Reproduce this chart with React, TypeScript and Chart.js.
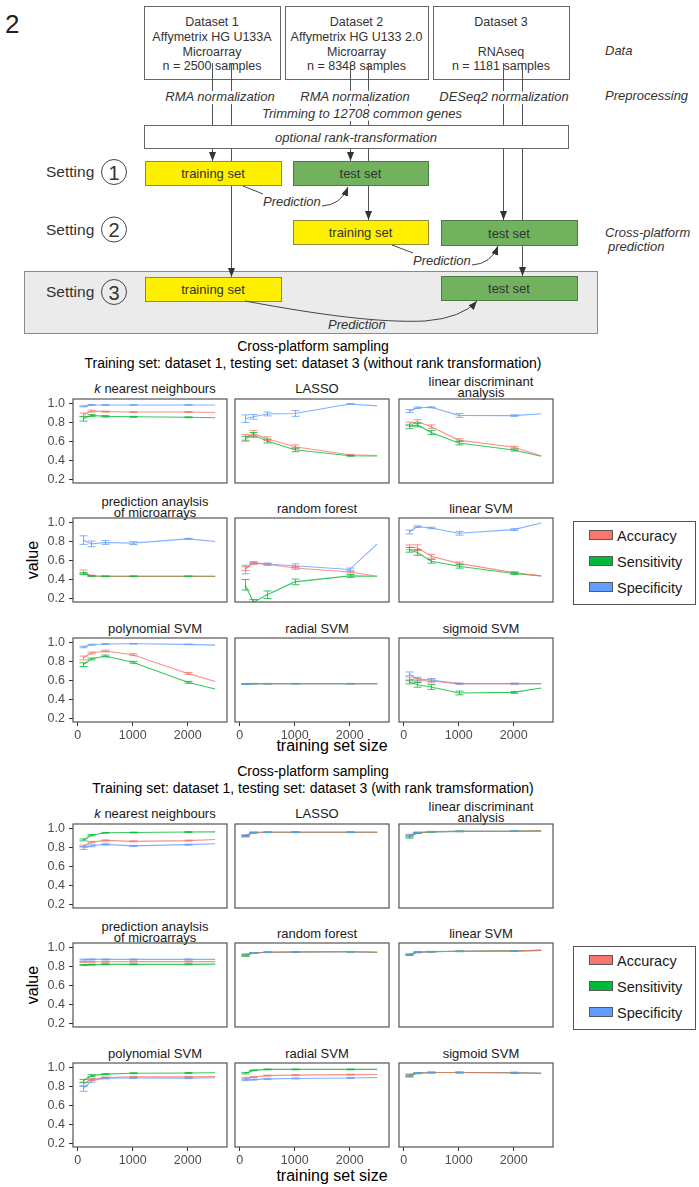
import React, { useEffect, useRef } from 'react';
import { Chart, registerables } from 'chart.js';

Chart.register(...registerables);

const FONT = "'Liberation Sans', Arial, Helvetica, sans-serif";

// ---- data -------------------------------------------------------------
const TRAINING_SIZES = [100, 250, 500, 1000, 2000, 2500];
const X_TICKS = [0, 1000, 2000];
const Y_TICKS = [0.2, 0.4, 0.6, 0.8, 1.0];

const METHODS = [
  ['k nearest neighbours'],
  ['LASSO'],
  ['linear discriminant', 'analysis'],
  ['prediction anaylsis', 'of microarrays'],
  ['random forest'],
  ['linear SVM'],
  ['polynomial SVM'],
  ['radial SVM'],
  ['sigmoid SVM'],
];

const METRICS = ['Accuracy', 'Sensitivity', 'Specificity'];
const METRIC_FILL = ['#F8766D', '#00BA38', '#619CFF'];
const METRIC_LINE = ['rgba(248,118,109,0.8)', 'rgba(0,186,56,0.8)', 'rgba(97,156,255,0.8)'];

const FIGURE_TITLE = 'Cross-platform sampling';
const SUBTITLE_RAW = 'Training set: dataset 1, testing set: dataset 3 (without rank transformation)';
const SUBTITLE_RANK = 'Training set: dataset 1, testing set: dataset 3 (with rank tramsformation)';

// without rank transformation: one row per method, one value per training size
const RAW_ACCURACY = [
  [0.885, 0.925, 0.92, 0.915, 0.915, 0.91],
  [0.65, 0.69, 0.635, 0.55, 0.465, 0.458],
  [0.79, 0.815, 0.76, 0.62, 0.545, 0.455],
  [0.485, 0.445, 0.44, 0.44, 0.44, 0.44],
  [0.52, 0.575, 0.565, 0.527, 0.485, 0.44],
  [0.745, 0.74, 0.65, 0.575, 0.478, 0.443],
  [0.842, 0.895, 0.915, 0.877, 0.68, 0.595],
  [0.568, 0.572, 0.572, 0.572, 0.572, 0.572],
  [0.62, 0.605, 0.6, 0.572, 0.572, 0.572],
];
const RAW_SENSITIVITY = [
  [0.845, 0.88, 0.87, 0.865, 0.86, 0.855],
  [0.635, 0.675, 0.61, 0.518, 0.455, 0.452],
  [0.76, 0.78, 0.7, 0.59, 0.515, 0.45],
  [0.468, 0.442, 0.438, 0.438, 0.438, 0.438],
  [0.35, 0.165, 0.245, 0.38, 0.443, 0.44],
  [0.718, 0.69, 0.597, 0.545, 0.468, 0.443],
  [0.772, 0.832, 0.863, 0.797, 0.586, 0.515],
  [0.568, 0.572, 0.572, 0.572, 0.572, 0.572],
  [0.59, 0.56, 0.537, 0.474, 0.48, 0.526],
];
const RAW_SPECIFICITY = [
  [0.975, 0.99, 0.99, 0.99, 0.99, 0.99],
  [0.845, 0.865, 0.895, 0.9, 1.0, 0.98],
  [0.925, 0.96, 0.965, 0.88, 0.878, 0.898],
  [0.82, 0.78, 0.795, 0.788, 0.833, 0.805],
  [0.51, 0.583, 0.568, 0.55, 0.51, 0.78],
  [0.905, 0.962, 0.948, 0.892, 0.93, 1.0],
  [0.958, 0.982, 0.99, 0.992, 0.985, 0.978],
  [0.568, 0.572, 0.572, 0.572, 0.572, 0.572],
  [0.675, 0.62, 0.61, 0.572, 0.572, 0.572],
];
// half-widths of the error bars
const RAW_ACCURACY_ERR = [
  [0.02, 0.01, 0.005, 0.005, 0.005, 0],
  [0.03, 0.03, 0.02, 0.02, 0.005, 0],
  [0.02, 0.02, 0.02, 0.015, 0.01, 0],
  [0.02, 0.005, 0.003, 0.003, 0.003, 0],
  [0.02, 0.01, 0.01, 0.015, 0.01, 0],
  [0.025, 0.03, 0.02, 0.015, 0.01, 0],
  [0.02, 0.01, 0.01, 0.01, 0.01, 0],
  [0.005, 0.002, 0.002, 0.002, 0.002, 0],
  [0.02, 0.02, 0.02, 0.005, 0.005, 0],
];
const RAW_SENSITIVITY_ERR = [
  [0.025, 0.01, 0.008, 0.005, 0.005, 0],
  [0.025, 0.025, 0.02, 0.02, 0.005, 0],
  [0.02, 0.02, 0.02, 0.02, 0.01, 0],
  [0.01, 0.003, 0.003, 0.003, 0.003, 0],
  [0.055, 0.03, 0.04, 0.03, 0.015, 0],
  [0.025, 0.03, 0.02, 0.02, 0.01, 0],
  [0.02, 0.01, 0.01, 0.01, 0.01, 0],
  [0.005, 0.002, 0.002, 0.002, 0.002, 0],
  [0.02, 0.025, 0.025, 0.02, 0.01, 0],
];
const RAW_SPECIFICITY_ERR = [
  [0.005, 0.005, 0.003, 0.003, 0.003, 0],
  [0.04, 0.025, 0.02, 0.03, 0.003, 0],
  [0.015, 0.008, 0.005, 0.02, 0.008, 0],
  [0.045, 0.03, 0.02, 0.015, 0.005, 0],
  [0.045, 0.01, 0.01, 0.02, 0.015, 0],
  [0.02, 0.008, 0.008, 0.02, 0.01, 0],
  [0.008, 0.005, 0.003, 0.003, 0.003, 0],
  [0.005, 0.002, 0.002, 0.002, 0.002, 0],
  [0.02, 0.02, 0.015, 0.005, 0.005, 0],
];

// with rank transformation
const RANK_ACCURACY = [
  [0.82, 0.862, 0.88, 0.87, 0.878, 0.89],
  [0.928, 0.962, 0.965, 0.965, 0.965, 0.965],
  [0.925, 0.96, 0.971, 0.975, 0.977, 0.98],
  [0.853, 0.855, 0.855, 0.857, 0.857, 0.857],
  [0.925, 0.948, 0.955, 0.958, 0.96, 0.955],
  [0.93, 0.955, 0.96, 0.965, 0.97, 0.975],
  [0.83, 0.88, 0.9, 0.907, 0.907, 0.91],
  [0.893, 0.905, 0.92, 0.925, 0.93, 0.932],
  [0.92, 0.947, 0.952, 0.952, 0.95, 0.945],
];
const RANK_SENSITIVITY = [
  [0.885, 0.935, 0.96, 0.963, 0.968, 0.97],
  [0.925, 0.962, 0.966, 0.966, 0.966, 0.966],
  [0.915, 0.958, 0.97, 0.975, 0.977, 0.98],
  [0.822, 0.825, 0.828, 0.828, 0.828, 0.83],
  [0.92, 0.948, 0.955, 0.958, 0.96, 0.955],
  [0.928, 0.955, 0.962, 0.965, 0.97, 0.975],
  [0.865, 0.92, 0.935, 0.945, 0.948, 0.95],
  [0.945, 0.975, 0.985, 0.985, 0.985, 0.985],
  [0.915, 0.945, 0.952, 0.953, 0.95, 0.945],
];
const RANK_SPECIFICITY = [
  [0.8, 0.823, 0.838, 0.822, 0.835, 0.845],
  [0.93, 0.962, 0.965, 0.965, 0.965, 0.965],
  [0.935, 0.963, 0.972, 0.975, 0.977, 0.98],
  [0.878, 0.88, 0.88, 0.88, 0.88, 0.88],
  [0.93, 0.948, 0.955, 0.958, 0.96, 0.955],
  [0.932, 0.955, 0.96, 0.965, 0.97, 0.975],
  [0.78, 0.865, 0.893, 0.895, 0.893, 0.897],
  [0.875, 0.878, 0.885, 0.89, 0.895, 0.9],
  [0.928, 0.948, 0.952, 0.952, 0.95, 0.945],
];
const RANK_ACCURACY_ERR = [
  [0.01, 0.008, 0.005, 0.005, 0.005, 0],
  [0.008, 0.004, 0.003, 0.003, 0.003, 0],
  [0.01, 0.005, 0.003, 0.003, 0.003, 0],
  [0.005, 0.005, 0.005, 0.005, 0.005, 0],
  [0.008, 0.004, 0.003, 0.003, 0.003, 0],
  [0.006, 0.004, 0.003, 0.003, 0.003, 0],
  [0.015, 0.01, 0.005, 0.005, 0.005, 0],
  [0.008, 0.005, 0.005, 0.005, 0.005, 0],
  [0.01, 0.005, 0.004, 0.004, 0.004, 0],
];
const RANK_SENSITIVITY_ERR = [
  [0.01, 0.008, 0.004, 0.004, 0.004, 0],
  [0.008, 0.004, 0.003, 0.003, 0.003, 0],
  [0.012, 0.005, 0.003, 0.003, 0.003, 0],
  [0.005, 0.005, 0.005, 0.005, 0.005, 0],
  [0.008, 0.004, 0.003, 0.003, 0.003, 0],
  [0.006, 0.004, 0.003, 0.003, 0.003, 0],
  [0.015, 0.01, 0.005, 0.005, 0.005, 0],
  [0.008, 0.004, 0.004, 0.004, 0.004, 0],
  [0.01, 0.005, 0.004, 0.004, 0.004, 0],
];
const RANK_SPECIFICITY_ERR = [
  [0.015, 0.01, 0.006, 0.006, 0.005, 0],
  [0.008, 0.004, 0.003, 0.003, 0.003, 0],
  [0.01, 0.005, 0.003, 0.003, 0.003, 0],
  [0.005, 0.005, 0.005, 0.005, 0.005, 0],
  [0.008, 0.004, 0.003, 0.003, 0.003, 0],
  [0.006, 0.004, 0.003, 0.003, 0.003, 0],
  [0.025, 0.015, 0.008, 0.005, 0.005, 0],
  [0.008, 0.005, 0.005, 0.005, 0.005, 0],
  [0.01, 0.005, 0.004, 0.004, 0.004, 0],
];

// ---- layout -------------------------------------------------------------
const PANEL_COLS = [73, 235, 399];
const PANEL_ROWS = [399, 518, 638];
const PANEL_W = 154;
const PANEL_H = 84;
const BLOCK_SHIFT = 425;
const AXIS_W = 50;
const AXIS_H = 26;
const PAD_TOP = 8;
const PAD_RIGHT = 4;
const CANVAS_W = AXIS_W + PANEL_W + PAD_RIGHT;
const CANVAS_H = PAD_TOP + PANEL_H + AXIS_H;

const X_MIN = -85;
const X_MAX = 2715;
const Y_MIN = 0.1684;
const Y_MAX = 1.0526;

const TICK_FONT = { family: FONT, size: 12.5 };
const TICK_COLOR = '#4d4d4d';

// ---- chart plugins -----------------------------------------------------
const panelFrame = {
  id: 'panelFrame',
  afterDraw(chart: any) {
    const { ctx, chartArea: a } = chart;
    ctx.save();
    ctx.strokeStyle = '#555555';
    ctx.lineWidth = 1.2;
    ctx.strokeRect(a.left, a.top, a.right - a.left, a.bottom - a.top);
    ctx.restore();
  },
};

const errorBars = {
  id: 'errorBars',
  afterDatasetsDraw(chart: any) {
    const { ctx, chartArea: a, scales } = chart;
    const xs = scales.x;
    const ys = scales.y;
    ctx.save();
    ctx.beginPath();
    ctx.rect(a.left, a.top, a.right - a.left, a.bottom - a.top);
    ctx.clip();
    chart.data.datasets.forEach((ds: any) => {
      ctx.strokeStyle = ds.borderColor;
      ctx.lineWidth = 1;
      ds.data.forEach((p: any, j: number) => {
        const e = ds.errors[j];
        if (!e) return;
        const px = Math.round(xs.getPixelForValue(p.x)) + 0.5;
        const lo = ys.getPixelForValue(p.y - e);
        const hi = ys.getPixelForValue(p.y + e);
        ctx.beginPath();
        ctx.moveTo(px, lo);
        ctx.lineTo(px, hi);
        ctx.moveTo(px - 4, lo);
        ctx.lineTo(px + 4, lo);
        ctx.moveTo(px - 4, hi);
        ctx.lineTo(px + 4, hi);
        ctx.stroke();
      });
    });
    ctx.restore();
  },
};

// scales keep a fixed footprint so every facet gets the same plotting area
function fixScaleBox(s: any, size: number, horizontal: boolean) {
  if (horizontal) s.height = size;
  else s.width = size;
  s.paddingTop = 0;
  s.paddingBottom = 0;
  s.paddingLeft = 0;
  s.paddingRight = 0;
}

type Series = { values: number[]; errors: number[] };

function FacetPanel(props: { left: number; top: number; showX: boolean; showY: boolean; series: Series[] }) {
  const ref = useRef<HTMLCanvasElement | null>(null);
  const { left, top, showX, showY, series } = props;

  useEffect(() => {
    const canvas = ref.current;
    if (!canvas) return;
    const chart = new Chart(canvas, {
      type: 'line',
      data: {
        datasets: series.map((s, i) => ({
          label: METRICS[i],
          data: TRAINING_SIZES.map((x, j) => ({ x, y: s.values[j] })),
          errors: s.errors,
          borderColor: METRIC_LINE[i],
          borderWidth: 1.1,
          pointRadius: 0,
          tension: 0,
          fill: false,
        })) as any,
      },
      options: {
        animation: false,
        responsive: false,
        maintainAspectRatio: false,
        events: [],
        layout: { padding: { top: PAD_TOP, right: PAD_RIGHT, left: 0, bottom: 0 } },
        plugins: { legend: { display: false }, tooltip: { enabled: false }, title: { display: false } },
        scales: {
          x: {
            type: 'linear',
            min: X_MIN,
            max: X_MAX,
            afterBuildTicks: (s: any) => {
              s.ticks = X_TICKS.map((v) => ({ value: v }));
            },
            afterFit: (s: any) => fixScaleBox(s, AXIS_H, true),
            ticks: {
              display: showX,
              font: TICK_FONT,
              color: TICK_COLOR,
              padding: 2,
              maxRotation: 0,
              autoSkip: false,
              callback: (v: any) => String(v),
            },
            grid: { display: showX, drawOnChartArea: false, drawTicks: true, tickLength: 4, color: '#333333', lineWidth: 1 },
            border: { display: false },
          },
          y: {
            type: 'linear',
            min: Y_MIN,
            max: Y_MAX,
            afterBuildTicks: (s: any) => {
              s.ticks = Y_TICKS.map((v) => ({ value: v }));
            },
            afterFit: (s: any) => fixScaleBox(s, AXIS_W, false),
            ticks: {
              display: showY,
              font: TICK_FONT,
              color: TICK_COLOR,
              padding: 4,
              autoSkip: false,
              callback: (v: any) => Number(v).toFixed(1),
            },
            grid: { display: showY, drawOnChartArea: false, drawTicks: true, tickLength: 4, color: '#333333', lineWidth: 1 },
            border: { display: false },
          },
        },
      } as any,
      plugins: [panelFrame, errorBars],
    });
    return () => chart.destroy();
  }, []);

  return (
    <canvas
      ref={ref}
      width={CANVAS_W}
      height={CANVAS_H}
      style={{ position: 'absolute', left: left - AXIS_W, top: top - PAD_TOP, width: CANVAS_W, height: CANVAS_H }}
    />
  );
}

// ---- static text of one block of facets ---------------------------------
function BlockText(props: { dy: number; subtitle: string; xLabelY: number }) {
  const { dy, subtitle, xLabelY } = props;
  const stripY = [388, 508, 628];
  const items: any[] = [];
  METHODS.forEach((lines, m) => {
    const r = Math.floor(m / 3);
    const c = m % 3;
    const cx = PANEL_COLS[c] + PANEL_W / 2 + 5;
    const base = stripY[r] + dy;
    if (lines.length === 1) {
      items.push(
        <text key={'s' + m} x={cx} y={base} textAnchor="middle" dominantBaseline="central" fontSize={13} fill="#1a1a1a">
          {m === 0 ? (
            <>
              <tspan fontStyle="italic">k</tspan>
              {' nearest neighbours'}
            </>
          ) : (
            lines[0]
          )}
        </text>
      );
    } else {
      items.push(
        <text key={'s' + m + 'a'} x={cx} y={base - 7} textAnchor="middle" dominantBaseline="central" fontSize={13} fill="#1a1a1a">
          {lines[0]}
        </text>
      );
      items.push(
        <text key={'s' + m + 'b'} x={cx} y={base + 4} textAnchor="middle" dominantBaseline="central" fontSize={13} fill="#1a1a1a">
          {lines[1]}
        </text>
      );
    }
  });

  const legendTop = 521 + dy;
  return (
    <g>
      <text x={313} y={346 + dy} textAnchor="middle" dominantBaseline="central" fontSize={14} fill="#000">
        {FIGURE_TITLE}
      </text>
      <text x={313} y={363 + dy} textAnchor="middle" dominantBaseline="central" fontSize={14} fill="#000">
        {subtitle}
      </text>
      {items}
      <text x={332} y={xLabelY} textAnchor="middle" dominantBaseline="central" fontSize={16} fill="#000">
        training set size
      </text>
      <text
        x={0}
        y={0}
        transform={`translate(32 ${560 + dy}) rotate(-90)`}
        textAnchor="middle"
        dominantBaseline="central"
        fontSize={16}
        fill="#000"
      >
        value
      </text>
      <rect x={573.5} y={legendTop + 0.5} width={122} height={83} fill="#fff" stroke="#555" strokeWidth={1} />
      {METRICS.map((name, i) => (
        <g key={name}>
          <rect x={589.5} y={legendTop + 9.5 + i * 26} width={23} height={9} fill={METRIC_FILL[i]} stroke="#5a5a5a" strokeWidth={1} />
          <text x={617} y={legendTop + 14.5 + i * 26} dominantBaseline="central" fontSize={14.5} fill="#1a1a1a">
            {name}
          </text>
        </g>
      ))}
    </g>
  );
}

// ---- workflow diagram ---------------------------------------------------
const YELLOW = '#fff000';
const YELLOW_EDGE = '#8f8a3c';
const GREEN = '#72b25e';
const GREEN_EDGE = '#4b7c42';
const INK = '#333333';

function SetBox(props: { x: number; y: number; w: number; h: number; train: boolean }) {
  const { x, y, w, h, train } = props;
  return (
    <g>
      <rect x={x + 0.5} y={y + 0.5} width={w} height={h} fill={train ? YELLOW : GREEN} stroke={train ? YELLOW_EDGE : GREEN_EDGE} strokeWidth={1} />
      <text x={x + w / 2} y={y + h / 2 + 0.5} textAnchor="middle" dominantBaseline="central" fontSize={13} fill={INK}>
        {train ? 'training set' : 'test set'}
      </text>
    </g>
  );
}

function DatasetBox(props: { x: number; w: number; lines: string[] }) {
  const { x, w, lines } = props;
  const ys = [22, 37, 52, 66];
  return (
    <g>
      <rect x={x + 0.5} y={6.5} width={w} height={73} fill="#fff" stroke="#666" strokeWidth={1} />
      {lines.map((t, i) => (
        <text key={i} x={x + w / 2} y={ys[i]} textAnchor="middle" dominantBaseline="central" fontSize={12.5} fill={INK}>
          {t}
        </text>
      ))}
    </g>
  );
}

function Diagram() {
  const halo = { stroke: '#fff', strokeWidth: 6, paintOrder: 'stroke' as any, strokeLinejoin: 'round' as any };
  return (
    <g>
      <defs>
        <marker id="arrowHead" viewBox="0 0 10 10" refX="10" refY="5" markerWidth="9" markerHeight="7" markerUnits="userSpaceOnUse" orient="auto" preserveAspectRatio="none">
          <path d="M0,0 L10,5 L0,10 z" fill="#333" />
        </marker>
      </defs>
      <text x={5} y={33} fontSize={26} fill="#222">2</text>

      {/* setting 3 background */}
      <rect x={24.5} y={271.5} width={573} height={62} fill="#ebebeb" stroke="#8a8a8a" strokeWidth={1} />

      <DatasetBox x={144} w={136} lines={['Dataset 1', 'Affymetrix HG U133A', 'Microarray', 'n = 2500 samples']} />
      <DatasetBox x={285} w={143} lines={['Dataset 2', 'Affymetrix HG U133 2.0', 'Microarray', 'n = 8348 samples']} />
      <DatasetBox x={433} w={136} lines={['Dataset 3', '', 'RNAseq', 'n = 1181 samples']} />

      {/* data flow */}
      <g stroke="#555" strokeWidth={1} fill="none">
        <line x1={212.5} y1={63} x2={212.5} y2={161} markerEnd="url(#arrowHead)" />
        <line x1={231.5} y1={63} x2={231.5} y2={277} markerEnd="url(#arrowHead)" />
        <line x1={350.5} y1={63} x2={350.5} y2={161} markerEnd="url(#arrowHead)" />
        <line x1={368.5} y1={63} x2={368.5} y2={220} markerEnd="url(#arrowHead)" />
        <line x1={503.5} y1={63} x2={503.5} y2={220} markerEnd="url(#arrowHead)" />
        <line x1={522.5} y1={63} x2={522.5} y2={276} markerEnd="url(#arrowHead)" />
      </g>

      <text x={220} y={96} textAnchor="middle" dominantBaseline="central" fontSize={13} fontStyle="italic" fill={INK} {...halo}>
        RMA normalization
      </text>
      <text x={355} y={96} textAnchor="middle" dominantBaseline="central" fontSize={13} fontStyle="italic" fill={INK} {...halo}>
        RMA normalization
      </text>
      <text x={504} y={96} textAnchor="middle" dominantBaseline="central" fontSize={13} fontStyle="italic" fill={INK} {...halo}>
        DESeq2 normalization
      </text>
      <text x={362} y={113} textAnchor="middle" dominantBaseline="central" fontSize={13} fontStyle="italic" fill={INK} {...halo}>
        Trimming to 12708 common genes
      </text>

      <rect x={144.5} y={125.5} width={424} height={23} fill="#fff" stroke="#666" strokeWidth={1} />
      <text x={356} y={137} textAnchor="middle" dominantBaseline="central" fontSize={13} fontStyle="italic" fill={INK}>
        optional rank-transformation
      </text>

      <SetBox x={145} y={161} w={136} h={24} train />
      <SetBox x={293} y={161} w={135} h={24} train={false} />
      <SetBox x={293} y={220} w={135} h={24} train />
      <SetBox x={441} y={220} w={136} h={25} train={false} />
      <SetBox x={145} y={277} w={136} h={24} train />
      <SetBox x={441} y={276} w={136} h={24} train={false} />

      {/* prediction links */}
      <g stroke="#444" strokeWidth={1} fill="none">
        <line x1={243} y1={186} x2={263} y2={194} />
        <path d="M322,206 Q341,205 348,187" markerEnd="url(#arrowHead)" />
        <line x1={392} y1={245} x2={413} y2={253} />
        <path d="M472,265 Q491,264 498,246" markerEnd="url(#arrowHead)" />
        <path d="M245,301 C320,315 380,323 425,321 Q462,318 477,301" markerEnd="url(#arrowHead)" />
      </g>
      <text x={263} y={201} dominantBaseline="central" fontSize={13} fontStyle="italic" fill={INK}>Prediction</text>
      <text x={413} y={260} dominantBaseline="central" fontSize={13} fontStyle="italic" fill={INK}>Prediction</text>
      <text x={328} y={324} dominantBaseline="central" fontSize={13} fontStyle="italic" fill={INK}>Prediction</text>

      {/* setting labels */}
      {[
        ['1', 172],
        ['2', 229.5],
        ['3', 292],
      ].map(([n, cy]) => (
        <g key={n as string}>
          <text x={46} y={(cy as number) - 0.5} dominantBaseline="central" fontSize={15.5} fill={INK}>Setting</text>
          <circle cx={114} cy={cy as number} r={12.5} fill="none" stroke="#444" strokeWidth={1} />
          <text x={114} y={(cy as number) + 0.5} textAnchor="middle" dominantBaseline="central" fontSize={20} fill={INK}>{n}</text>
        </g>
      ))}

      {/* row captions */}
      <text x={605} y={50} dominantBaseline="central" fontSize={13} fontStyle="italic" fill={INK}>Data</text>
      <text x={605} y={95.5} dominantBaseline="central" fontSize={13} fontStyle="italic" fill={INK}>Preprocessing</text>
      <text x={605} y={232} dominantBaseline="central" fontSize={13} fontStyle="italic" fill={INK}>Cross-platform</text>
      <text x={608} y={246.5} dominantBaseline="central" fontSize={13} fontStyle="italic" fill={INK}>prediction</text>
    </g>
  );
}

// ---- page ---------------------------------------------------------------
function seriesFor(vals: number[][][], errs: number[][][], m: number): Series[] {
  return vals.map((v, i) => ({ values: v[m], errors: errs[i][m] }));
}

export default function App() {
  const blocks = [
    {
      dy: 0,
      vals: [RAW_ACCURACY, RAW_SENSITIVITY, RAW_SPECIFICITY],
      errs: [RAW_ACCURACY_ERR, RAW_SENSITIVITY_ERR, RAW_SPECIFICITY_ERR],
    },
    {
      dy: BLOCK_SHIFT,
      vals: [RANK_ACCURACY, RANK_SENSITIVITY, RANK_SPECIFICITY],
      errs: [RANK_ACCURACY_ERR, RANK_SENSITIVITY_ERR, RANK_SPECIFICITY_ERR],
    },
  ];

  return (
    <div style={{ position: 'absolute', left: 0, top: 0, width: 699, height: 1187, background: '#fff', overflow: 'hidden' }}>
      <svg width={699} height={1187} style={{ position: 'absolute', left: 0, top: 0 }} fontFamily={FONT}>
        <Diagram />
        <BlockText dy={0} subtitle={SUBTITLE_RAW} xLabelY={745.5} />
        <BlockText dy={BLOCK_SHIFT} subtitle={SUBTITLE_RANK} xLabelY={1175} />
      </svg>
      {blocks.map((b, bi) =>
        METHODS.map((_, m) => {
          const r = Math.floor(m / 3);
          const c = m % 3;
          return (
            <FacetPanel
              key={bi + '-' + m}
              left={PANEL_COLS[c]}
              top={PANEL_ROWS[r] + b.dy}
              showX={r === 2}
              showY={c === 0}
              series={seriesFor(b.vals, b.errs, m)}
            />
          );
        })
      )}
    </div>
  );
}
